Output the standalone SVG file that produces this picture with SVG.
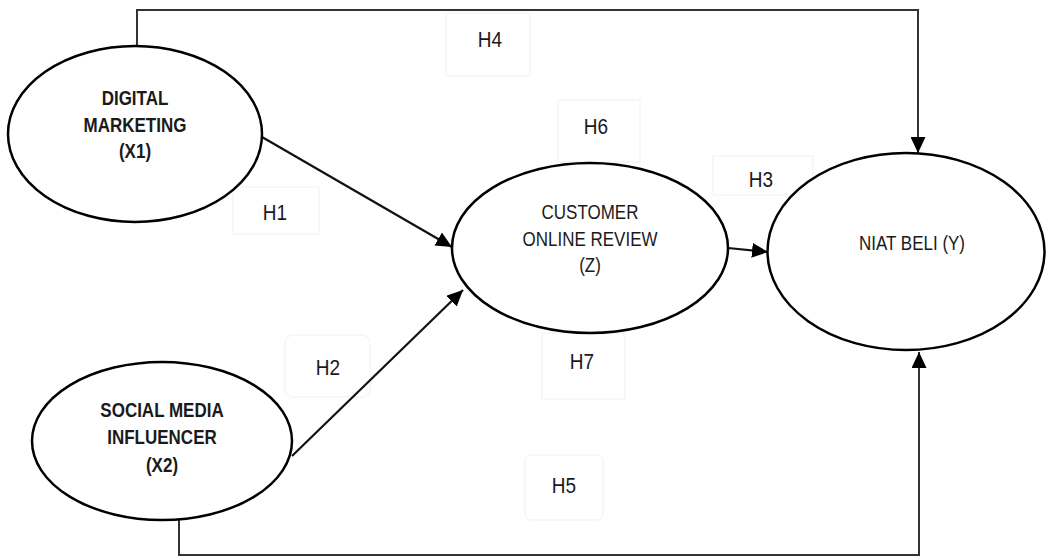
<svg xmlns="http://www.w3.org/2000/svg" width="1046" height="557" viewBox="0 0 1046 557">
<style>
.bg{fill:#ffffff}
.node{fill:#ffffff;stroke:#000000;stroke-width:2.5}
.t{font-family:"Liberation Sans",Arial,sans-serif;font-size:17px;fill:#1a1a1a;text-anchor:middle}
.b{font-weight:bold}
.lbl{font-family:"Liberation Sans",Arial,sans-serif;font-size:19px;fill:#1a1a1a;text-anchor:middle}
.box{fill:none;stroke:#f1f1f1;stroke-width:1}
.edge{fill:none;stroke:#111111;stroke-width:2.2}
.frame{fill:none;stroke:#333333;stroke-width:2}
</style>
<defs>
<marker id="arr" markerUnits="userSpaceOnUse" markerWidth="17" markerHeight="15" refX="16" refY="7.5" orient="auto">
<path d="M0,0 L16,7.5 L0,15 z" fill="#000000"/>
</marker>
</defs>
<rect class="bg" x="0" y="0" width="1046" height="557"/>

<g id="labels">
<rect class="box" x="446" y="13" width="84" height="63"/>
<text class="lbl" transform="translate(490,47) scale(1,1.12)">H4</text>
<rect class="box" x="558" y="100" width="82" height="62"/>
<text class="lbl" transform="translate(596,134) scale(1,1.12)">H6</text>
<rect class="box" x="713" y="156" width="100" height="39"/>
<text class="lbl" transform="translate(761,187) scale(1,1.12)">H3</text>
<rect class="box" x="233" y="187" width="86" height="47"/>
<text class="lbl" transform="translate(275,220) scale(1,1.12)">H1</text>
<rect class="box" x="285" y="335" width="85" height="62" rx="8"/>
<text class="lbl" transform="translate(328,375) scale(1,1.12)">H2</text>
<rect class="box" x="542" y="333" width="83" height="66"/>
<text class="lbl" transform="translate(582,369) scale(1,1.12)">H7</text>
<rect class="box" x="525" y="455" width="78" height="65" rx="6"/>
<text class="lbl" transform="translate(564,493) scale(1,1.12)">H5</text>
</g>

<g id="connectors">
<path class="frame" d="M137,46 V10 H918 V153" marker-end="url(#arr)"/>
<path class="frame" d="M179,520 V555 H919 V352" marker-end="url(#arr)"/>
<line class="edge" x1="262" y1="137" x2="452" y2="247" marker-end="url(#arr)"/>
<line class="edge" x1="292" y1="456" x2="463" y2="290" marker-end="url(#arr)"/>
<line class="edge" x1="728" y1="248" x2="768" y2="252" marker-end="url(#arr)"/>
</g>

<g id="digital-marketing">
<ellipse class="node" cx="135" cy="134" rx="127" ry="88"/>
<text class="t b" transform="translate(135,105) scale(1,1.2)">DIGITAL</text>
<text class="t b" transform="translate(135,132) scale(1,1.2)">MARKETING</text>
<text class="t b" transform="translate(135,158) scale(1,1.2)">(X1)</text>
</g>

<g id="social-media-influencer">
<ellipse class="node" cx="162" cy="441" rx="130" ry="79"/>
<text class="t b" transform="translate(162,417) scale(1,1.2)">SOCIAL MEDIA</text>
<text class="t b" transform="translate(162,444) scale(1,1.2)">INFLUENCER</text>
<text class="t b" transform="translate(162,472) scale(1,1.2)">(X2)</text>
</g>

<g id="customer-online-review">
<ellipse class="node" cx="590" cy="248" rx="138" ry="85"/>
<text class="t" transform="translate(590,219) scale(1,1.2)">CUSTOMER</text>
<text class="t" transform="translate(590,246) scale(1,1.2)">ONLINE REVIEW</text>
<text class="t" transform="translate(590,272) scale(1,1.2)">(Z)</text>
</g>

<g id="niat-beli">
<ellipse class="node" cx="906" cy="251.5" rx="138.5" ry="98.5"/>
<text class="t" transform="translate(912,250) scale(1,1.2)">NIAT BELI (Y)</text>
</g>
</svg>
